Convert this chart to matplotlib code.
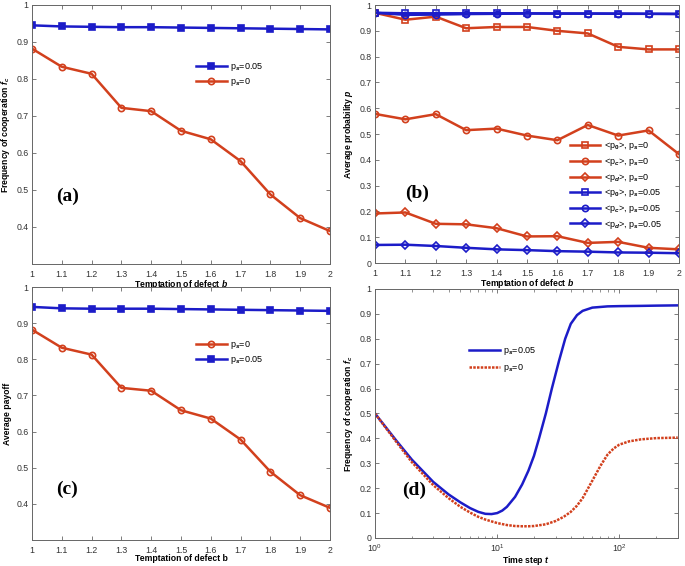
import numpy as np
import matplotlib
matplotlib.use('Agg')
import matplotlib.pyplot as plt
from matplotlib.ticker import FuncFormatter, LogLocator, NullFormatter

plt.rcParams['font.family'] = 'Liberation Sans'
plt.rcParams['mathtext.fontset'] = 'custom'
plt.rcParams['mathtext.rm'] = 'Liberation Sans:bold'
plt.rcParams['mathtext.it'] = 'Liberation Sans:italic:bold'
plt.rcParams['mathtext.bf'] = 'Liberation Sans:bold'

BLUE = '#1c1cc8'
RED = '#d2401d'
AXC = '#666666'

b = [1.0, 1.1, 1.2, 1.3, 1.4, 1.5, 1.6, 1.7, 1.8, 1.9, 2.0]

# (a) frequency of cooperation
fc_005 = [0.945, 0.942, 0.941, 0.940, 0.940, 0.939, 0.938, 0.937, 0.936, 0.935, 0.934]
fc_0 = [0.882, 0.833, 0.814, 0.722, 0.713, 0.660, 0.637, 0.578, 0.488, 0.424, 0.389]

# (b) average probabilities
p0_0 = [0.970, 0.943, 0.955, 0.910, 0.915, 0.915, 0.900, 0.890, 0.838, 0.828, 0.828]
pc_0 = [0.578, 0.557, 0.577, 0.515, 0.521, 0.494, 0.476, 0.535, 0.494, 0.514, 0.422]
pd_0 = [0.192, 0.196, 0.152, 0.150, 0.135, 0.103, 0.104, 0.078, 0.082, 0.059, 0.053]
p0_005 = [0.970, 0.968, 0.968, 0.968, 0.968, 0.968, 0.967, 0.967, 0.967, 0.966, 0.966]
pc_005 = [0.970, 0.962, 0.963, 0.965, 0.966, 0.967, 0.967, 0.967, 0.966, 0.966, 0.965]
pd_005 = [0.070, 0.071, 0.066, 0.059, 0.053, 0.050, 0.046, 0.044, 0.041, 0.040, 0.038]

# (c) average payoff
pay_0 = [0.882, 0.832, 0.813, 0.721, 0.713, 0.659, 0.636, 0.578, 0.489, 0.424, 0.389]
pay_005 = [0.945, 0.941, 0.940, 0.940, 0.940, 0.939, 0.938, 0.937, 0.936, 0.935, 0.934]

# (d) time evolution
t_blue = [1, 1.5, 2, 3, 4, 5, 6, 7, 8, 9, 10, 11, 12, 14, 16, 18, 20, 22, 25, 28,
          32, 36, 40, 45, 50, 60, 80, 100, 150, 200, 300]
fc_t_005 = [0.5, 0.39, 0.315, 0.225, 0.175, 0.143, 0.12, 0.105, 0.097, 0.096, 0.10,
            0.11, 0.125, 0.165, 0.215, 0.27, 0.33, 0.40, 0.50, 0.60, 0.71, 0.80,
            0.86, 0.895, 0.912, 0.925, 0.93, 0.931, 0.932, 0.933, 0.934]
t_red = [1, 1.5, 2, 3, 4, 5, 6, 7, 8, 10, 12, 14, 16, 18, 20, 25, 30, 35, 40, 45,
         50, 60, 70, 80, 90, 100, 120, 150, 200, 300]
fc_t_0 = [0.5, 0.385, 0.305, 0.212, 0.16, 0.125, 0.102, 0.085, 0.074, 0.06, 0.052,
          0.048, 0.047, 0.047, 0.048, 0.055, 0.068, 0.085, 0.105, 0.13, 0.16, 0.23,
          0.29, 0.335, 0.36, 0.375, 0.388, 0.396, 0.401, 0.403]

fig = plt.figure(figsize=(6.85, 5.66), dpi=100)
axa = fig.add_axes([0.0467, 0.5336, 0.435, 0.4576])
axb = fig.add_axes([0.5474, 0.5353, 0.4438, 0.4558])
axc = fig.add_axes([0.0467, 0.0459, 0.435, 0.447])
axd = fig.add_axes([0.5474, 0.0495, 0.442, 0.440])

fmt = FuncFormatter(lambda v, p: '%g' % round(v, 2))
LFS = 6.2


def style(ax, xpad=4.3):
    for s in ax.spines.values():
        s.set_color(AXC)
        s.set_linewidth(0.7)
    ax.tick_params(direction='in', length=3, width=0.6, colors=AXC, labelcolor='#333333',
                   labelsize=6.3, pad=2.5, top=True, right=True)
    ax.tick_params(axis='x', pad=xpad)
    ax.tick_params(which='minor', direction='in', length=1.8, width=0.5, colors=AXC,
                   top=True, right=True)


lk = dict(lw=1.8, ms=4.5, mew=1.2, mfc='none')
lkb = dict(lw=1.8, ms=4.2, mew=1.2, mfc=BLUE)
leg_kw = dict(frameon=False, fontsize=6.5, handlelength=3.4, handletextpad=0.4,
              borderaxespad=0, borderpad=0, loc='upper left')

# (a)
axa.plot(b, fc_005, 's-', color=BLUE, label='p$_s$=0.05', **lkb)
axa.plot(b, fc_0, 'o-', color=RED, label='p$_s$=0', **lk)
axa.set_xlim(1, 2)
axa.set_ylim(0.3, 1)
axa.set_xticks(b)
axa.set_yticks([0.4, 0.5, 0.6, 0.7, 0.8, 0.9, 1.0])
axa.xaxis.set_major_formatter(fmt)
axa.yaxis.set_major_formatter(fmt)
axa.set_xlabel('Temptation of defect $b$', fontsize=LFS, fontweight='bold', labelpad=-0.5)
axa.set_ylabel('Frequency of cooperation $f_c$', fontsize=LFS, fontweight='bold', labelpad=3)
axa.legend(bbox_to_anchor=(0.55, 0.785), labelspacing=0.4, **leg_kw)
axa.text(0.08, 0.26, '(a)', transform=axa.transAxes, family='Liberation Serif',
         fontweight='bold', fontsize=14, va='center')
style(axa)

# (b)
axb.plot(b, p0_0, 's-', color=RED, label='<p$_0$>, p$_s$=0', **lk)
axb.plot(b, pc_0, 'o-', color=RED, label='<p$_c$>, p$_s$=0', **lk)
axb.plot(b, pd_0, 'D-', color=RED, label='<p$_d$>, p$_s$=0', **dict(lk, ms=4))
axb.plot(b, p0_005, 's-', color=BLUE, label='<p$_0$>, p$_s$=0.05', **lk)
axb.plot(b, pc_005, 'o-', color=BLUE, label='<p$_c$>, p$_s$=0.05', **lk)
axb.plot(b, pd_005, 'D-', color=BLUE, label='<p$_d$>, p$_s$=0.05', **dict(lk, ms=4))
axb.set_xlim(1, 2)
axb.set_ylim(0, 1)
axb.set_xticks(b)
axb.set_yticks(np.round(np.arange(0, 1.01, 0.1), 1))
axb.xaxis.set_major_formatter(fmt)
axb.yaxis.set_major_formatter(fmt)
axb.set_xlabel('Temptation of defect $b$', fontsize=LFS, fontweight='bold', labelpad=-0.5)
axb.set_ylabel('Average probability $p$', fontsize=LFS, fontweight='bold', labelpad=3)
axb.legend(bbox_to_anchor=(0.64, 0.475), labelspacing=0.4, **leg_kw)
axb.text(0.1, 0.27, '(b)', transform=axb.transAxes, family='Liberation Serif',
         fontweight='bold', fontsize=14, va='center')
style(axb)

# (c)
axc.plot(b, pay_0, 'o-', color=RED, label='p$_s$=0', **lk)
axc.plot(b, pay_005, 's-', color=BLUE, label='p$_s$=0.05', **lkb)
axc.set_xlim(1, 2)
axc.set_ylim(0.3, 1)
axc.set_xticks(b)
axc.set_yticks([0.4, 0.5, 0.6, 0.7, 0.8, 0.9, 1.0])
axc.xaxis.set_major_formatter(fmt)
axc.yaxis.set_major_formatter(fmt)
axc.set_xlabel('Temptation of defect b', fontsize=LFS, fontweight='bold', labelpad=-0.5)
axc.set_ylabel('Average payoff', fontsize=LFS, fontweight='bold', labelpad=3)
axc.legend(bbox_to_anchor=(0.55, 0.795), labelspacing=0.4, **leg_kw)
axc.text(0.08, 0.20, '(c)', transform=axc.transAxes, family='Liberation Serif',
         fontweight='bold', fontsize=14, va='center')
style(axc)

# (d)
axd.plot(t_blue, fc_t_005, '-', color=BLUE, lw=1.8, label='p$_s$=0.05')
axd.plot(t_red, fc_t_0, linestyle=(0, (1, 0.5)), color=RED, lw=1.8, label='p$_s$=0')
axd.set_xscale('log')
axd.set_xlim(1, 300)
axd.set_ylim(0, 1)
axd.set_yticks(np.round(np.arange(0, 1.01, 0.1), 1))
axd.yaxis.set_major_formatter(fmt)
axd.xaxis.set_minor_locator(LogLocator(base=10, subs=np.arange(2, 10)))
axd.xaxis.set_minor_formatter(NullFormatter())
axd.set_xlabel('Time step $t$', fontsize=LFS, fontweight='bold', labelpad=0)
axd.set_ylabel('Frequency of cooperation $f_c$', fontsize=LFS, fontweight='bold', labelpad=3)
axd.legend(bbox_to_anchor=(0.31, 0.775), labelspacing=0.6, **leg_kw)
axd.text(0.09, 0.19, '(d)', transform=axd.transAxes, family='Liberation Serif',
         fontweight='bold', fontsize=14, va='center')
style(axd, xpad=3)

fig.savefig('out.png', dpi=100)
